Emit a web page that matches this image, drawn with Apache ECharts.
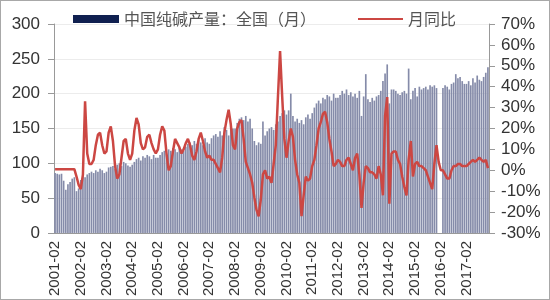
<!DOCTYPE html>
<html>
<head>
<meta charset="utf-8">
<script src="https://cdn.jsdelivr.net/npm/echarts@6/dist/echarts.min.js"></script>
<style>
html,body{margin:0;padding:0;background:#fff;}
#c{width:550px;height:300px;box-sizing:border-box;border:1px solid #a8a8a8;}
</style>
</head>
<body>
<div id="c"></div>
<script>
// Production (10k t), each segment YYYY-02 .. (YYYY+1)-01
const p2001 = [86,85,84,85,75,62,70,73,78,80,60,64];
const p2002 = [76,82,80,84,86,88,86,90,88,92,90,86];
const p2003 = [88,94,95,96,92,98,100,96,102,100,97,95];
const p2004 = [98,102,106,108,104,110,108,112,110,106,112,108];
const p2005 = [108,112,116,118,114,120,118,122,120,116,124,120];
const p2006 = [118,124,128,130,126,132,128,134,130,126,136,130];
const p2007 = [128,136,140,142,138,146,140,152,148,140,154,150];
const p2008 = [150,158,164,166,162,168,160,164,150,132,126,130];
const p2009 = [128,160,140,146,150,152,148,156,160,168,172,176];
const p2010 = [170,176,200,168,160,164,158,162,156,166,170,164];
const p2011 = [172,180,186,190,186,194,192,198,196,190,200,194];
const p2012 = [194,198,204,200,206,198,202,196,200,194,204,168];
const p2013 = [196,228,192,188,194,190,196,198,204,218,229,242];
const p2014 = [186,206,206,204,200,198,202,204,200,236,192,204];
const p2015 = [208,196,210,206,208,210,206,212,210,212,208,null];
const p2016 = [null,208,212,210,206,214,216,228,222,224,218,214];
const p2017 = [214,218,212,222,216,226,220,218,224,230,238];

// YoY (%)
const y2001 = [0.5,0.5,0.5,0.5,0.5,0.5,0.5,0.5,0.5,0.5,-3,-7];
const y2002 = [-9,-2,33,8,3,3,5,12,17,18,12,8];
const y2003 = [9,18,21,14,2,-4,-2,6,14,15,8,5];
const y2004 = [8,19,25,22,13,10,11,16,17,13,10,8];
const y2005 = [10,17,21,19,8,0,2,9,15,13,11,8];
const y2006 = [10,13,15,12,7,5,9,15,18,14,9,6];
const y2007 = [7,5,5,3,1,-1,6,18,24,29,22,12];
const y2008 = [10,20,23,24,15,4,1,-2,-6,-13,-19,-22];
const y2009 = [-14,-2,0,-4,-3,-6,3,12,35,57,35,15];
const y2010 = [6,14,20,16,5,-2,-6,-22,-12,-3,-5,-4];
const y2011 = [2,5,12,20,23,27,28,23,15,9,2,3];
const y2012 = [5,4,2,2,5,6,3,0,6,8,-2,-18];
const y2013 = [-6,2,1,-1,-1,-2,-4,2,-2,-12,26,35];
const y2014 = [-16,8,9,9,5,3,-3,-8,-12,5,14,-3];
const y2015 = [3,4,2,2,1,0,-3,-6,-9,3,12,4];
const y2016 = [0,0,-2,-4,-4,0,2,2,3,3,2,2];
const y2017 = [2,3,4,5,4,5,6,5,4,5,1];

const leftTicks = [0, 300, 50];
const rightTicks = [-30, 70, 10];

const production = [].concat(p2001,p2002,p2003,p2004,p2005,p2006,p2007,p2008,p2009,p2010,p2011,p2012,p2013,p2014,p2015,p2016,p2017);
const yoy = [].concat(y2001,y2002,y2003,y2004,y2005,y2006,y2007,y2008,y2009,y2010,y2011,y2012,y2013,y2014,y2015,y2016,y2017);

const categories = [];
for (let i = 0; i < production.length; i++) {
  const t = 2001 * 12 + 1 + i;
  const yy = Math.floor(t / 12), mm = t % 12 + 1;
  categories.push(yy + '-' + (mm < 10 ? '0' + mm : mm));
}

const FONT = 'Liberation Sans, Arial, Noto Sans CJK SC, sans-serif';
const LEG_TEXT = {fontSize: 16, color: '#555', fontFamily: 'Noto Sans CJK SC, sans-serif'};
const chart = echarts.init(document.getElementById('c'), null, {renderer: 'canvas'});
chart.setOption({
  animation: false,
  textStyle: {fontFamily: FONT},
  legend: [
    {
      top: 5, left: 67, itemWidth: 46, itemHeight: 8, icon: 'rect',
      textStyle: LEG_TEXT,
      data: [{name: '中国纯碱产量：全国（月）', itemStyle: {color: '#102050'}}]
    },
    {
      top: 5, left: 352, itemWidth: 45, itemHeight: 2, icon: 'rect',
      textStyle: LEG_TEXT,
      data: ['月同比']
    }
  ],
  grid: {left: 53, right: 60, top: 23, bottom: 60, containLabel: false},
  xAxis: {
    type: 'category', data: categories, boundaryGap: true,
    axisLine: {lineStyle: {color: '#999'}},
    axisTick: {interval: 11, alignWithLabel: true, length: 5, lineStyle: {color: '#999'}},
    axisLabel: {interval: 11, rotate: 90, fontSize: 15, color: '#333', margin: 8}
  },
  yAxis: [
    {
      type: 'value', min: leftTicks[0], max: leftTicks[1], interval: leftTicks[2],
      axisLine: {show: true, lineStyle: {color: '#999'}},
      axisTick: {show: true, length: 6, lineStyle: {color: '#999'}},
      axisLabel: {fontSize: 17, color: '#333', margin: 14},
      splitLine: {lineStyle: {color: '#ececec'}}
    },
    {
      type: 'value', min: rightTicks[0], max: rightTicks[1], interval: rightTicks[2],
      axisLine: {show: true, lineStyle: {color: '#999'}},
      axisTick: {show: true, length: 6, lineStyle: {color: '#999'}},
      axisLabel: {fontSize: 17, color: '#333', margin: 12, formatter: '{value}%'},
      splitLine: {show: false}
    }
  ],
  series: [
    {
      name: '中国纯碱产量：全国（月）', type: 'bar', data: production,
      yAxisIndex: 0, barCategoryGap: '22%',
      itemStyle: {color: '#858ba9'}
    },
    {
      name: '月同比', type: 'line', data: yoy, yAxisIndex: 1,
      symbol: 'none', showSymbol: false,
      lineStyle: {color: '#cc4743', width: 2.5},
      itemStyle: {color: '#cc4743'}
    }
  ]
});
</script>
</body>
</html>
